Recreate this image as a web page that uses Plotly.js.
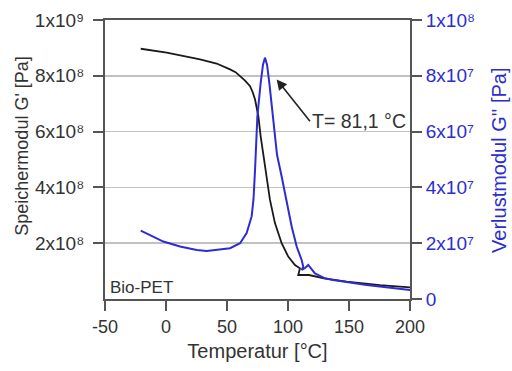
<!DOCTYPE html>
<html>
<head>
<meta charset="utf-8">
<script src="https://cdn.plot.ly/plotly-3.0.1.min.js"></script>
<style>html,body{margin:0;padding:0;background:#fff;}#chart{width:512px;height:371px;}</style>
</head>
<body>
<div id="chart"></div>
<script>
// Storage modulus G' (left axis, Pa)
const tempStorage = [-20.7, 0.6, 27.9, 41.5, 52.5, 57.0, 60.7, 64.8, 68.9, 71.0, 73.0, 75.7, 77.6, 79.8, 82.5, 85.2, 89.3, 94.8, 100.2, 105.7, 109.8, 108.4, 117.2, 129.5, 148.1, 175.4, 200];
const storageModulus = [0.897e9, 0.883e9, 0.859e9, 0.844e9, 0.823e9, 0.813e9, 0.799e9, 0.783e9, 0.763e9, 0.742e9, 0.715e9, 0.655e9, 0.583e9, 0.517e9, 0.439e9, 0.356e9, 0.272e9, 0.200e9, 0.152e9, 0.122e9, 0.110e9, 0.086e9, 0.086e9, 0.074e9, 0.062e9, 0.050e9, 0.042e9];

// Loss modulus G'' (right axis, Pa)
const tempLoss = [-20.7, -2.2, 11.5, 25.2, 33.4, 44.3, 52.5, 60.7, 66.1, 70.2, 71.7, 73.0, 74.9, 77.6, 79.5, 81.1, 82.8, 84.7, 87.5, 91.0, 94.8, 98.9, 103.0, 107.1, 111.2, 112.5, 111.2, 114.0, 116.6, 122.1, 130.3, 137.0, 164.5, 200];
const lossModulus = [2.45e7, 2.06e7, 1.88e7, 1.76e7, 1.72e7, 1.79e7, 1.82e7, 2.00e7, 2.36e7, 2.96e7, 3.56e7, 4.64e7, 6.55e7, 7.75e7, 8.40e7, 8.65e7, 8.40e7, 7.75e7, 6.55e7, 5.17e7, 4.39e7, 3.44e7, 2.60e7, 1.88e7, 1.40e7, 1.16e7, 1.04e7, 1.11e7, 1.22e7, 0.92e7, 0.74e7, 0.68e7, 0.50e7, 0.32e7];

// Ticks
const xTicks = [-50, 0, 50, 100, 150, 200];
const leftTickVals = [2e8, 4e8, 6e8, 8e8, 1e9];
const leftTickText = ['2x10⁸', '4x10⁸', '6x10⁸', '8x10⁸', '1x10⁹'];
const rightTickVals = [0, 2e7, 4e7, 6e7, 8e7, 1e8];
const rightTickText = ['0', '2x10⁷', '4x10⁷', '6x10⁷', '8x10⁷', '1x10⁸'];

const BLUE = '#2c2cd2';
const AXIS = '#555555';
const FONT = 'Liberation Sans, Arial, sans-serif';

const traces = [
  {x: tempStorage, y: storageModulus, type: 'scatter', mode: 'lines', yaxis: 'y',
   line: {color: '#1a1a1a', width: 1.8}, name: "G'"},
  {x: tempLoss, y: lossModulus, type: 'scatter', mode: 'lines', yaxis: 'y2',
   line: {color: BLUE, width: 2}, name: "G''"}
];

const layout = {
  width: 512, height: 371,
  margin: {l: 105, r: 102, t: 20, b: 72},
  paper_bgcolor: '#fff', plot_bgcolor: '#fff',
  showlegend: false,
  font: {family: FONT, size: 18, color: '#333'},
  xaxis: {
    range: [-50, 200], tickvals: xTicks, ticktext: xTicks.map(String),
    showline: true, linecolor: AXIS, linewidth: 2, mirror: true,
    ticks: 'outside', ticklen: 10, tickwidth: 2, tickcolor: AXIS,
    showgrid: false, zeroline: false,
    tickfont: {size: 18, color: '#333'},
    title: {text: 'Temperatur [°C]', font: {size: 20, color: '#333'}, standoff: 8}
  },
  yaxis: {
    range: [0, 1e9], tickvals: leftTickVals, ticktext: leftTickText,
    showline: true, linecolor: AXIS, linewidth: 2,
    ticks: 'outside', ticklen: 10, tickwidth: 2, tickcolor: AXIS,
    ticklabelstandoff: 5,
    showgrid: true, gridcolor: '#c2c2c2', gridwidth: 1.5, zeroline: false,
    tickfont: {size: 19, color: '#333'}
  },
  yaxis2: {
    range: [0, 1e8], tickvals: rightTickVals, ticktext: rightTickText,
    overlaying: 'y', side: 'right',
    showline: true, linecolor: AXIS, linewidth: 2,
    ticks: 'outside', ticklen: 10, tickwidth: 2, tickcolor: AXIS,
    showgrid: false, zeroline: false,
    tickfont: {size: 19, color: BLUE}
  },
  annotations: [
    {xref: 'paper', yref: 'paper', x: -0.275, y: 0.55, text: "Speichermodul G' [Pa]",
     textangle: -90, showarrow: false, font: {size: 18, color: '#333'}, xanchor: 'center', yanchor: 'middle'},
    {xref: 'paper', yref: 'paper', x: 1.29, y: 0.5, text: "Verlustmodul G'' [Pa]",
     textangle: -90, showarrow: false, font: {size: 20, color: BLUE}, xanchor: 'center', yanchor: 'middle'},
    {xref: 'x', yref: 'y', x: 90.7, y: 0.787e9, ax: 118.0, ay: 0.637e9, axref: 'x', ayref: 'y',
     text: 'T= 81,1 °C', showarrow: true, arrowhead: 2, arrowsize: 1.3, arrowwidth: 1.6, arrowcolor: '#222',
     xanchor: 'left', yanchor: 'middle', font: {size: 19.5, color: '#333'}},
    {xref: 'x', yref: 'y', x: -47.5, y: 0.043e9, text: 'Bio-PET', showarrow: false,
     xanchor: 'left', yanchor: 'middle', font: {size: 17, color: '#333'}}
  ]
};

Plotly.newPlot('chart', traces, layout, {staticPlot: true, displayModeBar: false});
</script>
</body>
</html>
